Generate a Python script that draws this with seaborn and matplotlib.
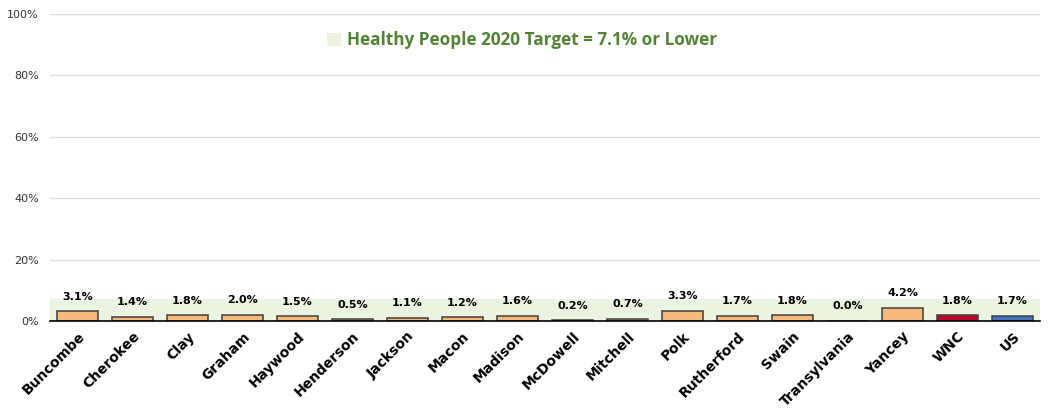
import matplotlib.pyplot as plt
import seaborn as sns
import pandas as pd
from matplotlib.patches import Patch

counties = ['Buncombe', 'Cherokee', 'Clay', 'Graham', 'Haywood', 'Henderson',
            'Jackson', 'Macon', 'Madison', 'McDowell', 'Mitchell', 'Polk',
            'Rutherford', 'Swain', 'Transylvania', 'Yancey', 'WNC', 'US']
values = [3.1, 1.4, 1.8, 2.0, 1.5, 0.5, 1.1, 1.2, 1.6, 0.2, 0.7, 3.3,
          1.7, 1.8, 0.0, 4.2, 1.8, 1.7]
target = 7.1
yticks = [0, 20, 40, 60, 80, 100]

orange = '#F5BA7B'
bar_colors = [orange] * 16 + ['#BE0A2A', '#4472C4']

df = pd.DataFrame({'county': counties, 'value': values})

sns.set_style('white')
plt.rcParams['font.family'] = ['DejaVu Sans']

fig = plt.figure(figsize=(10.48, 4.08), dpi=100)
ax = fig.add_axes([50 / 1048, 1 - 321 / 408, 990 / 1048, 307 / 408])

ax.axhspan(0, target, color='#EBF3E1', zorder=0)
for t in yticks[1:]:
    ax.axhline(t, color='#DDDDDD', lw=1, zorder=0.5)

sns.barplot(data=df, x='county', y='value', hue='county', palette=bar_colors,
            legend=False, width=0.75, edgecolor='#3F3F3F', linewidth=1.1,
            saturation=1, ax=ax, zorder=2)

for i, v in enumerate(values):
    ax.annotate(f'{v:.1f}%', (i, v), xytext=(0, 7), textcoords='offset points',
                ha='center', va='bottom', fontsize=8, fontweight='bold',
                color='black')

ax.set_ylim(0, 100)
ax.set_xlim(-0.5, len(counties) - 0.5)
ax.set_yticks(yticks)
ax.set_yticklabels([f'{t}%' for t in yticks], fontsize=8, color='#333333')
ax.tick_params(axis='y', length=0, pad=8)
ax.tick_params(axis='x', length=0, pad=6)
ax.set_xticks(range(len(counties)))
ax.set_xticklabels(counties, rotation=45, ha='right', rotation_mode='anchor',
                   fontsize=10, fontweight='heavy', color='black')
ax.set_xlabel('')
ax.set_ylabel('')
for s in ['top', 'right', 'left']:
    ax.spines[s].set_visible(False)
ax.spines['bottom'].set_color('black')
ax.spines['bottom'].set_linewidth(1.2)

handle = Patch(facecolor='#EBF3E1', edgecolor='none')
leg = ax.legend([handle], ['Healthy People 2020 Target = 7.1% or Lower'],
                loc='center', bbox_to_anchor=(0.477, 0.915), frameon=False,
                handlelength=0.8, handleheight=0.8, handletextpad=0.4,
                prop={'family': 'Open Sans', 'weight': 'bold', 'size': 12.3})
for txt in leg.get_texts():
    txt.set_color('#548235')

plt.savefig('out.png', dpi=100)
